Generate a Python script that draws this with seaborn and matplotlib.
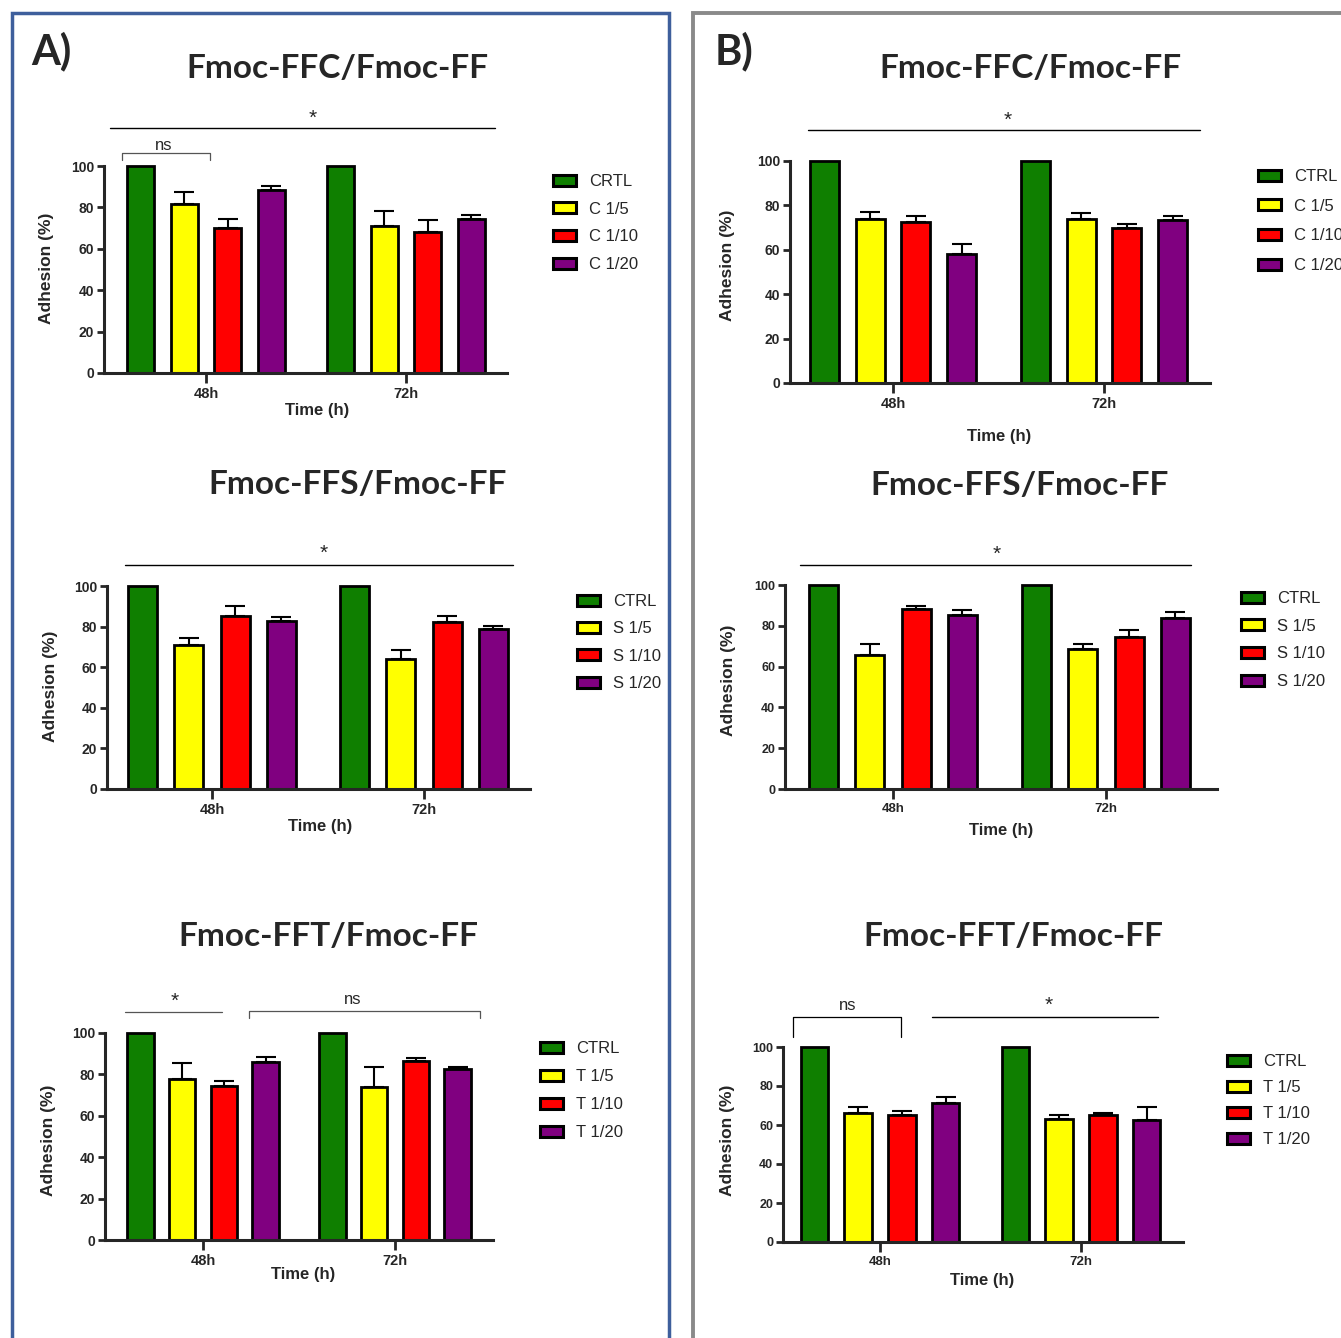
import numpy as np
import pandas as pd
import matplotlib
matplotlib.use("Agg")
import matplotlib.pyplot as plt
from matplotlib.lines import Line2D
from matplotlib.patches import Patch, Rectangle
import seaborn as sns

W, H = 1341, 1338

times = ["48h", "72h"]
bar_colors = ["#0f7f00", "#ffff00", "#ff0000", "#800080"]

# A) Fmoc-FFC/Fmoc-FF
a_ffc_groups = ["CRTL", "C 1/5", "C 1/10", "C 1/20"]
a_ffc_48h = [100, 81.5, 70.0, 88.5]
a_ffc_72h = [100, 70.8, 68.0, 74.6]
a_ffc_err_48h = [0, 6.0, 4.3, 2.0]
a_ffc_err_72h = [0, 7.5, 6.0, 1.5]

# A) Fmoc-FFS/Fmoc-FF
a_ffs_groups = ["CTRL", "S 1/5", "S 1/10", "S 1/20"]
a_ffs_48h = [100, 70.7, 85.2, 82.6]
a_ffs_72h = [100, 63.8, 82.2, 78.8]
a_ffs_err_48h = [0, 3.5, 5.0, 2.0]
a_ffs_err_72h = [0, 4.5, 3.0, 1.6]

# A) Fmoc-FFT/Fmoc-FF
a_fft_groups = ["CTRL", "T 1/5", "T 1/10", "T 1/20"]
a_fft_48h = [100, 78.0, 74.4, 86.0]
a_fft_72h = [100, 73.8, 86.4, 82.7]
a_fft_err_48h = [0, 7.7, 2.6, 2.6]
a_fft_err_72h = [0, 9.6, 1.6, 0.8]

# B) Fmoc-FFC/Fmoc-FF
b_ffc_groups = ["CTRL", "C 1/5", "C 1/10", "C 1/20"]
b_ffc_48h = [100, 74.0, 72.6, 58.0]
b_ffc_72h = [100, 74.0, 69.7, 73.6]
b_ffc_err_48h = [0, 3.0, 2.4, 4.4]
b_ffc_err_72h = [0, 2.5, 2.0, 1.4]

# B) Fmoc-FFS/Fmoc-FF
b_ffs_groups = ["CTRL", "S 1/5", "S 1/10", "S 1/20"]
b_ffs_48h = [100, 65.7, 88.2, 85.4]
b_ffs_72h = [100, 68.5, 74.3, 83.9]
b_ffs_err_48h = [0, 5.4, 1.6, 2.3]
b_ffs_err_72h = [0, 2.6, 3.4, 2.8]

# B) Fmoc-FFT/Fmoc-FF
b_fft_groups = ["CTRL", "T 1/5", "T 1/10", "T 1/20"]
b_fft_48h = [100, 66.4, 65.0, 71.1]
b_fft_72h = [100, 63.2, 65.0, 62.8]
b_fft_err_48h = [0, 3.0, 2.4, 3.4]
b_fft_err_72h = [0, 1.9, 1.4, 6.2]

sns.set_style("ticks")
plt.rcParams["font.family"] = ["Liberation Sans", "DejaVu Sans"]

fig = plt.figure(figsize=(W / 100, H / 100), dpi=100)


def fx(px):
    return px / W


def fy(py):
    return 1 - py / H


def ftext(x, y, s, **kw):
    kw.setdefault("ha", "center")
    kw.setdefault("va", "center")
    fig.text(fx(x), fy(y), s, **kw)


def fline(xs, ys, color="black", lw=1.0):
    fig.add_artist(Line2D([fx(v) for v in xs], [fy(v) for v in ys], color=color, lw=lw))


def panel(groups, v48, v72, e48, e72, box, title, title_xy, ylab_xy, xlab_xy, leg_xy, leg_space, tfs=10):
    left, right, c48, c72, y0, y100 = box
    ax = fig.add_axes([fx(left), fy(y0), (right - left) / W, (y0 - y100) / H])
    df = pd.DataFrame({
        "time": np.repeat(times, len(groups)),
        "group": groups * 2,
        "adhesion": v48 + v72,
    })
    sns.barplot(data=df, x="time", y="adhesion", hue="group", hue_order=groups,
                palette=bar_colors, saturation=1, edgecolor="black", linewidth=2.0,
                width=0.87, gap=0.37, errorbar=None, legend=False, ax=ax)
    errs = [e48, e72]
    bar_groups = list(ax.containers)
    for gi, cont in enumerate(bar_groups):
        for bar in cont:
            bar.set_clip_on(False)
            xc = bar.get_x() + bar.get_width() / 2
            ti = int(round(xc))
            e = errs[ti][gi]
            if e > 0:
                ax.errorbar(xc, bar.get_height(), yerr=[[0], [e]], color="black",
                            lw=1.5, capsize=7, capthick=1.5, clip_on=False, zorder=1)
    unit = c72 - c48
    ax.set_xlim((left - c48) / unit, (right - c48) / unit)
    ax.set_ylim(0, 100)
    ax.set_yticks(range(0, 101, 20))
    ax.set_xlabel("")
    ax.set_ylabel("")
    sns.despine(ax=ax)
    for sp in ["left", "bottom"]:
        ax.spines[sp].set_linewidth(2.2)
    ax.tick_params(axis="y", length=5, width=2, labelsize=tfs, pad=2)
    ax.tick_params(axis="x", length=7, width=2, labelsize=tfs + 0.5, pad=3)
    for lab in ax.get_xticklabels() + ax.get_yticklabels():
        lab.set_fontweight("bold")

    ftext(*title_xy, title, fontsize=24, fontweight="bold", family=["Lato", "DejaVu Sans"])
    ftext(*ylab_xy, "Adhesion (%)", fontsize=12.5, fontweight="bold", rotation=90)
    ftext(*xlab_xy, "Time (h)", fontsize=12, fontweight="bold")

    handles = [Patch(facecolor=c, edgecolor="black", linewidth=2.2) for c in bar_colors]
    lx, ly = leg_xy
    ax.legend(handles, groups, loc="upper left", bbox_to_anchor=(fx(lx), fy(ly - 6)),
              bbox_transform=fig.transFigure, frameon=False, fontsize=12,
              borderpad=0, borderaxespad=0, handlelength=1.4, handleheight=0.65,
              handletextpad=0.75, labelspacing=leg_space)
    return ax


panel(a_ffc_groups, a_ffc_48h, a_ffc_72h, a_ffc_err_48h, a_ffc_err_72h,
      (104, 507, 206, 406, 373, 166), "Fmoc-FFC/Fmoc-FF", (337, 68),
      (46, 268), (317, 411), (553, 180), 0.76)
panel(a_ffs_groups, a_ffs_48h, a_ffs_72h, a_ffs_err_48h, a_ffs_err_72h,
      (107, 530, 212, 424, 789, 586), "Fmoc-FFS/Fmoc-FF", (358, 485),
      (50, 686), (320, 826), (577, 600), 0.74)
panel(a_fft_groups, a_fft_48h, a_fft_72h, a_fft_err_48h, a_fft_err_72h,
      (105, 493, 203, 395, 1240, 1033), "Fmoc-FFT/Fmoc-FF", (328, 937),
      (48, 1140), (303, 1274), (540, 1047), 0.78)
panel(b_ffc_groups, b_ffc_48h, b_ffc_72h, b_ffc_err_48h, b_ffc_err_72h,
      (790, 1210, 893, 1104, 383, 161), "Fmoc-FFC/Fmoc-FF", (1030, 68),
      (727, 265), (999, 436), (1258, 175), 0.88, tfs=10)
panel(b_ffs_groups, b_ffs_48h, b_ffs_72h, b_ffs_err_48h, b_ffs_err_72h,
      (785, 1217, 893, 1106, 789, 585), "Fmoc-FFS/Fmoc-FF", (1020, 486),
      (729, 680), (1001, 831), (1241, 597), 0.76, tfs=9)
panel(b_fft_groups, b_fft_48h, b_fft_72h, b_fft_err_48h, b_fft_err_72h,
      (783, 1183, 880, 1081, 1242, 1047), "Fmoc-FFT/Fmoc-FF", (1013, 937),
      (727, 1140), (982, 1280), (1227, 1060), 0.66, tfs=9)

# significance marks
gray = "#555555"
fline([110, 495], [128, 128])
ftext(313, 118, "*", fontsize=15)
fline([122, 122, 210, 210], [160, 153, 153, 160], color=gray, lw=0.9)
ftext(164, 145, "ns", fontsize=12)

fline([808, 1200], [130, 130])
ftext(1008, 120, "*", fontsize=15)

fline([125, 513], [565, 565])
ftext(324, 553, "*", fontsize=15)

fline([800, 1191], [565, 565])
ftext(997, 554, "*", fontsize=15)

fline([125, 222], [1012, 1012], color=gray, lw=0.9)
ftext(175, 1001, "*", fontsize=15)
fline([249, 249, 480, 480], [1018, 1011, 1011, 1018], color=gray, lw=0.9)
ftext(353, 1000, "ns", fontsize=12)

fline([793, 793, 901, 901], [1037, 1017, 1017, 1037], color="black", lw=0.9)
ftext(848, 1005, "ns", fontsize=12)
fline([932, 1158], [1017, 1017])
ftext(1049, 1005, "*", fontsize=15)

# panel frames and letters
fig.add_artist(Rectangle((fx(12), fy(1360)), (669 - 12) / W, (1360 - 13) / H,
                         fill=False, edgecolor="#3e5f9c", lw=2.5, transform=fig.transFigure))
fig.add_artist(Rectangle((fx(693), fy(1360)), (1380 - 693) / W, (1360 - 13) / H,
                         fill=False, edgecolor="#8a8a8a", lw=2.8, transform=fig.transFigure))
ftext(51, 51, "A)", fontsize=30, fontweight="bold", family=["Lato", "DejaVu Sans"])
ftext(734, 51, "B)", fontsize=30, fontweight="bold", family=["Lato", "DejaVu Sans"])

fig.savefig("out.png", dpi=100)
